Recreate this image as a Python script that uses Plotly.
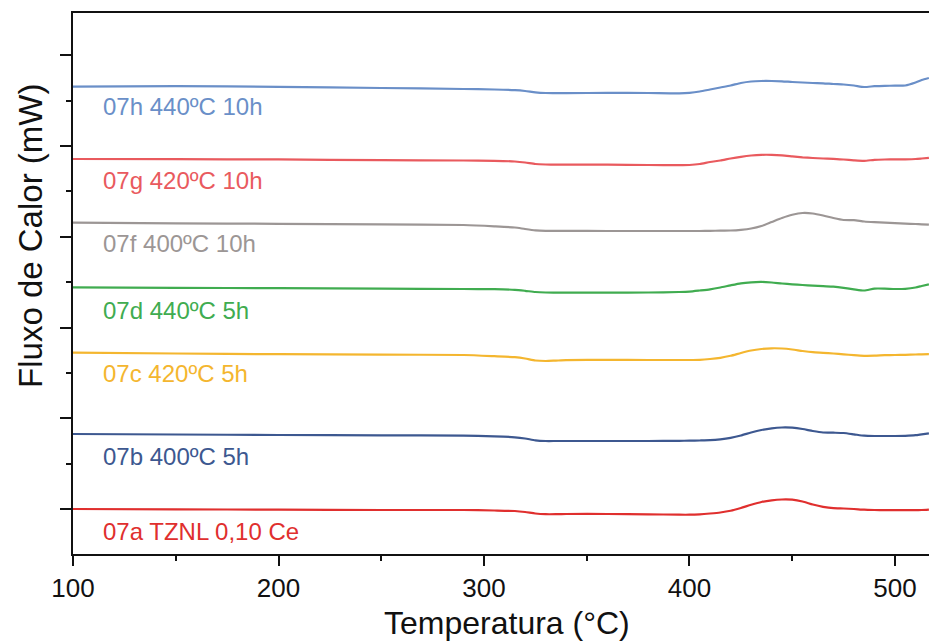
import plotly.graph_objects as go

# DSC heat-flow curves (offset for clarity), temperature in °C
temperatura = [100, 150, 200, 250, 290, 305, 315, 320, 325, 330, 335, 340, 360, 380,
               395, 400, 405, 410, 415, 420, 425, 430, 435, 440, 445, 450, 455, 460,
               465, 470, 475, 480, 485, 490, 495, 500, 505, 510, 513, 516.5]

fluxo_07h = [46.78, 46.83, 46.77, 46.65, 46.55, 46.50, 46.43, 46.35, 46.22, 46.15, 46.13, 46.13,
             46.17, 46.15, 46.12, 46.17, 46.30, 46.50, 46.70, 46.90, 47.15, 47.30, 47.35, 47.35,
             47.32, 47.25, 47.20, 47.15, 47.12, 47.05, 47.00, 46.90, 46.75, 46.83, 46.87, 46.88,
             46.90, 47.20, 47.45, 47.65]
fluxo_07g = [39.55, 39.53, 39.51, 39.43, 39.40, 39.37, 39.30, 39.20, 39.05, 39.00, 38.98, 38.98,
             38.98, 38.95, 38.93, 38.95, 39.05, 39.25, 39.40, 39.60, 39.77, 39.90, 39.97, 39.97,
             39.92, 39.82, 39.72, 39.65, 39.60, 39.57, 39.50, 39.42, 39.37, 39.47, 39.50, 39.51,
             39.52, 39.55, 39.60, 39.67]
fluxo_07f = [33.18, 33.12, 33.07, 33.02, 32.95, 32.82, 32.70, 32.55, 32.42, 32.37, 32.37, 32.37,
             32.35, 32.35, 32.35, 32.35, 32.35, 32.37, 32.38, 32.40, 32.47, 32.60, 32.85, 33.25,
             33.65, 33.97, 34.15, 34.10, 33.90, 33.65, 33.45, 33.43, 33.30, 33.23, 33.18, 33.13,
             33.09, 33.05, 33.02, 32.98]
fluxo_07d = [26.72, 26.67, 26.63, 26.59, 26.55, 26.53, 26.47, 26.37, 26.25, 26.20, 26.19, 26.18,
             26.18, 26.20, 26.25, 26.29, 26.40, 26.52, 26.70, 26.92, 27.12, 27.22, 27.26, 27.20,
             27.10, 27.02, 26.95, 26.89, 26.83, 26.78, 26.67, 26.52, 26.40, 26.59, 26.59, 26.55,
             26.57, 26.70, 26.85, 27.02]
fluxo_07c = [20.18, 20.10, 20.03, 19.98, 19.95, 19.83, 19.73, 19.60, 19.40, 19.35, 19.39, 19.43,
             19.47, 19.45, 19.45, 19.45, 19.47, 19.55, 19.67, 19.87, 20.15, 20.40, 20.55, 20.62,
             20.60, 20.50, 20.35, 20.23, 20.17, 20.10, 20.02, 19.93, 19.87, 19.88, 19.93, 19.95,
             19.97, 20.00, 20.02, 20.03]
fluxo_07b = [12.05, 12.00, 11.95, 11.92, 11.88, 11.82, 11.72, 11.60, 11.42, 11.35, 11.35, 11.35,
             11.35, 11.35, 11.37, 11.38, 11.40, 11.43, 11.52, 11.67, 11.90, 12.20, 12.45, 12.62,
             12.70, 12.68, 12.55, 12.35, 12.20, 12.18, 12.15, 12.02, 11.88, 11.85, 11.85, 11.85,
             11.87, 11.93, 12.02, 12.12]
fluxo_07a = [4.55, 4.52, 4.48, 4.45, 4.45, 4.40, 4.35, 4.25, 4.10, 4.03, 4.03, 4.05,
             4.05, 4.02, 3.98, 3.98, 4.02, 4.10, 4.20, 4.37, 4.65, 4.97, 5.25, 5.42,
             5.50, 5.48, 5.30, 5.00, 4.77, 4.63, 4.60, 4.55, 4.48, 4.45, 4.43, 4.43,
             4.43, 4.43, 4.45, 4.49]

amostras = ["07h 440ºC 10h", "07g 420ºC 10h", "07f 400ºC 10h", "07d 440ºC 5h",
            "07c 420ºC 5h", "07b 400ºC 5h", "07a TZNL 0,10 Ce"]
curvas = [fluxo_07h, fluxo_07g, fluxo_07f, fluxo_07d, fluxo_07c, fluxo_07b, fluxo_07a]
cores = ["#6a8fc8", "#e95a5e", "#9c9695", "#40ac50", "#f4b62f", "#3d5890", "#e02f2e"]
rotulo_y = [44.78, 37.45, 31.12, 24.45, 18.12, 9.78, 2.28]
rotulo_x = 113.7

FONTE = "Liberation Sans, Arial, Helvetica, sans-serif"

fig = go.Figure()
for nome, y, cor in zip(amostras, curvas, cores):
    fig.add_trace(go.Scatter(x=temperatura, y=y, mode="lines", name=nome,
                             line=dict(color=cor, width=2.2, shape="spline", smoothing=0.6),
                             hoverinfo="skip"))

for nome, yv, cor in zip(amostras, rotulo_y, cores):
    fig.add_annotation(x=rotulo_x, y=yv, xref="x", yref="y", text=nome,
                       showarrow=False, xanchor="left", yanchor="middle",
                       font=dict(family=FONTE, size=24, color=cor))

# axis titles
fig.add_annotation(x=0.507, y=-0.127, xref="paper", yref="paper",
                   text="Temperatura (°C)", showarrow=False,
                   xanchor="center", yanchor="middle",
                   font=dict(family=FONTE, size=32, color="#111111"))
fig.add_annotation(x=-0.049, y=0.588, xref="paper", yref="paper",
                   text="Fluxo de Calor (mW)", showarrow=False, textangle=-90,
                   xanchor="center", yanchor="middle",
                   font=dict(family=FONTE, size=33, color="#111111"))

passo = 4.54
fig.update_layout(
    width=929, height=641,
    margin=dict(l=73, r=0, t=13, b=87),
    paper_bgcolor="white", plot_bgcolor="white",
    showlegend=False,
    font=dict(family=FONTE, color="#111111"),
    xaxis=dict(
        range=[100, 516.55],
        tickmode="array", tickvals=[100, 200, 300, 400, 500],
        ticks="outside", ticklen=10, tickwidth=2, tickcolor="#111111",
        minor=dict(tickmode="array", tickvals=[150, 250, 350, 450],
                   ticks="outside", ticklen=5, tickwidth=2, tickcolor="#111111"),
        showline=True, linecolor="#111111", linewidth=2, mirror=True,
        showgrid=False, zeroline=False,
        tickfont=dict(family=FONTE, size=26, color="#111111"),
    ),
    yaxis=dict(
        range=[0.05, 54.15],
        tickmode="array", tickvals=[passo * k for k in (1, 3, 5, 7, 9, 11)],
        showticklabels=False,
        ticks="outside", ticklen=11, tickwidth=2, tickcolor="#111111",
        minor=dict(tickmode="array", tickvals=[passo * k for k in (0, 2, 4, 6, 8, 10)],
                   ticks="outside", ticklen=5, tickwidth=2, tickcolor="#111111"),
        showline=True, linecolor="#111111", linewidth=2, mirror=False,
        showgrid=False, zeroline=False,
    ),
)

fig.write_html("out.html")
